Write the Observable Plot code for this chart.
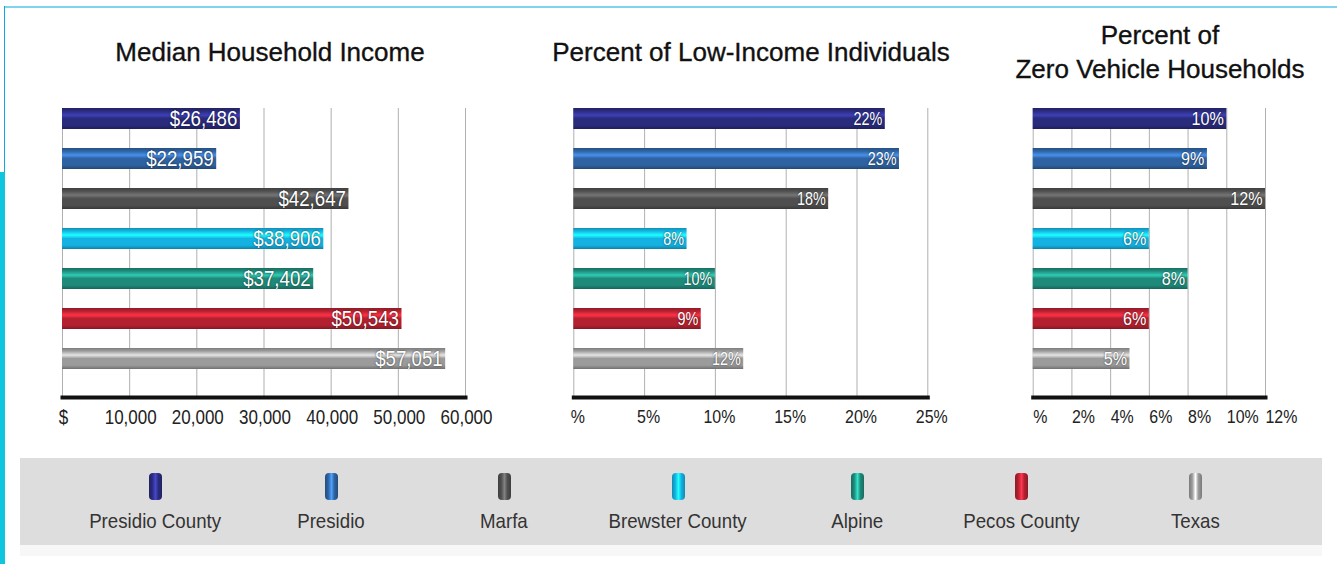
<!DOCTYPE html>
<html>
<head>
<meta charset="utf-8">
<script src="https://cdn.jsdelivr.net/npm/d3@7"></script>
<script src="https://cdn.jsdelivr.net/npm/@observablehq/plot@0.6"></script>
<style>
  html, body { margin: 0; padding: 0; background: #fff; }
  body { width: 1337px; height: 564px; position: relative; overflow: hidden; }
  .title { position: absolute; text-align: center; font-family: "Liberation Sans", Arial, sans-serif;
           font-size: 26px; color: #111; -webkit-text-stroke: 0.35px #111; white-space: nowrap; }
  .chart { position: absolute; top: 90px; }
  .chart g[aria-label="text"] text { text-shadow: 0 0 2px rgba(0,0,0,0.7); }
  #legend { position: absolute; left: 20px; top: 458px; width: 1302px; height: 87px; background: #dedddd; }
  #legend-under { position: absolute; left: 20px; top: 545px; width: 1302px; height: 11px; background: #f7f7f7; }
  .item { position: absolute; top: 0; width: 200px; margin-left: -100px; text-align: center;
          font-family: "Liberation Sans", Arial, sans-serif; }
  .icon { width: 13px; height: 27px; border-radius: 4px; margin: 15px auto 0 auto; }
  .lab { font-size: 21px; color: #333; margin-top: 9px; line-height: 24px; }
  .lab span { display: inline-block; transform: scaleX(0.89); transform-origin: center; white-space: nowrap; }
  #border-top { position: absolute; left: 4px; top: 6px; width: 1333px; height: 2px; background: #7fd3ec; }
  #border-left { position: absolute; left: 4px; top: 6px; width: 1px; height: 166px; background: #10a8e0; }
  #border-block { position: absolute; left: 0; top: 172px; width: 5px; height: 392px; background: #0fc6de; }
</style>
</head>
<body>
<div id="border-top"></div>
<div id="border-left"></div>
<div id="border-block"></div>

<div class="title" style="left:70px; width:400px; top:37px; line-height:30px;">Median Household Income</div>
<div class="title" style="left:551px; width:400px; top:37px; line-height:30px;">Percent of Low-Income Individuals</div>
<div class="title" style="left:1000px; width:320px; top:18px; line-height:34px;">Percent of<br>Zero Vehicle Households</div>

<div id="charts"></div>
<div id="legend"></div>
<div id="legend-under"></div>

<script>
// ---- data ----
const categories = ["Presidio County", "Presidio", "Marfa", "Brewster County", "Alpine", "Pecos County", "Texas"];
const colors = ["#2a2b7c", "#2f62a0", "#4f4f4f", "#14b2e2", "#1f8a7a", "#b32130", "#9b9b9b"];
const medianIncome = [26486, 22959, 42647, 38906, 37402, 50543, 57051];
const lowIncomePct = [22, 23, 18, 8, 10, 9, 12];
const zeroVehiclePct = [10, 9, 12, 6, 8, 6, 5];
const incomeTicks = [0, 10000, 20000, 30000, 40000, 50000, 60000];
const lowIncomeTicks = [0, 5, 10, 15, 20, 25];
const zeroVehicleTicks = [0, 2, 4, 6, 8, 10, 12];

// ---- gradients (glossy bars) ----
const defsSvg = d3.select("body").append("svg")
  .attr("width", 0).attr("height", 0)
  .style("position", "absolute").style("left", 0).style("top", 0);
const defs = defsSvg.append("defs");
colors.forEach((c, i) => {
  const g = defs.append("linearGradient").attr("id", "bar" + i)
    .attr("x1", 0).attr("y1", 0).attr("x2", 0).attr("y2", 1);
  const base = d3.color(c);
  const stops = [
    [0, base.darker(0.6)],
    [0.14, base],
    [0.34, base.brighter(1.1)],
    [0.5, base],
    [0.82, base],
    [1, base.darker(0.9)]
  ];
  stops.forEach(([o, col]) => g.append("stop").attr("offset", o).attr("stop-color", col.formatHex()));
});
const gradientUrls = colors.map((c, i) => `url(#bar${i})`);

const FONT = '"Liberation Sans", Arial, sans-serif';

function squeeze(sel, k) {
  sel.each(function () {
    const t = this.getAttribute("transform") || "";
    this.setAttribute("transform", (t + ` scale(${k},1)`).trim());
  });
}

function makeChart({values, ticks, tickFmt, valueFmt, left, width, marginLeft, marginRight,
                    valueSize, valueSqueeze, axisSize, axisSqueeze, axisAnchor, axisDx}) {
  const data = categories.map((c, i) => ({cat: c, value: values[i]}));
  const plot = Plot.plot({
    width, height: 360,
    marginLeft, marginRight, marginTop: 18, marginBottom: 53,
    style: {fontFamily: FONT, background: "transparent", overflow: "visible"},
    x: {domain: [ticks[0], ticks[ticks.length - 1]], label: null},
    y: {domain: categories, range: [7.9, 289.1], paddingInner: 0.477, paddingOuter: 0.2385, axis: null},
    color: {domain: categories, range: gradientUrls},
    marks: [
      Plot.gridX(ticks, {stroke: "#6f6f6f", strokeOpacity: 0.55, strokeWidth: 1}),
      Plot.barX(data, {x: "value", y: "cat", fill: "cat"}),
      Plot.text(data, {x: "value", y: "cat", text: d => valueFmt(d.value), textAnchor: "end", dx: -3,
                       fill: "white", fontSize: valueSize, fontFamily: FONT}),
      Plot.frame({anchor: "bottom", stroke: "#111", strokeWidth: 4}),
      Plot.axisX(ticks, {tickSize: 0, tickPadding: 12, tickFormat: tickFmt, fontSize: axisSize, label: null,
                         fill: "#222", textAnchor: axisAnchor, dx: axisDx})
    ]
  });
  plot.classList.add("chart");
  plot.style.left = left + "px";
  document.getElementById("charts").appendChild(plot);
  const s = d3.select(plot);
  squeeze(s.selectAll('g[aria-label="text"] text'), valueSqueeze);
  squeeze(s.selectAll('g[aria-label="x-axis tick label"] text'), axisSqueeze);
}

makeChart({
  values: medianIncome, ticks: incomeTicks,
  tickFmt: d => d === 0 ? "$" : d3.format(",")(d),
  valueFmt: d => "$" + d3.format(",")(d),
  left: 0, width: 510, marginLeft: 62, marginRight: 45,
  valueSize: 22, valueSqueeze: 0.85, axisSize: 20, axisSqueeze: 0.85, axisAnchor: "middle", axisDx: 1
});
makeChart({
  values: lowIncomePct, ticks: lowIncomeTicks,
  tickFmt: d => d === 0 ? "%" : d + "%",
  valueFmt: d => d + "%",
  left: 510, width: 470, marginLeft: 63.3, marginRight: 52.7,
  valueSize: 18, valueSqueeze: 0.8, axisSize: 19, axisSqueeze: 0.84, axisAnchor: "middle", axisDx: 4
});
makeChart({
  values: zeroVehiclePct, ticks: zeroVehicleTicks,
  tickFmt: d => d === 0 ? "%" : d + "%",
  valueFmt: d => d + "%",
  left: 980, width: 357, marginLeft: 52.7, marginRight: 72,
  valueSize: 19, valueSqueeze: 0.85, axisSize: 19, axisSqueeze: 0.84, axisAnchor: "start", axisDx: 0
});

// ---- legend ----
const legendX = [155, 331, 504, 678, 857, 1021, 1195];
const legend = document.getElementById("legend");
categories.forEach((c, i) => {
  const base = d3.color(colors[i]);
  const item = document.createElement("div");
  item.className = "item";
  item.style.left = (legendX[i] - 20) + "px";
  const icon = document.createElement("div");
  icon.className = "icon";
  icon.style.background = `linear-gradient(to right, ${base.darker(0.7).formatHex()} 0%, ${base.formatHex()} 25%, ${base.brighter(1.4).formatHex()} 50%, ${base.formatHex()} 72%, ${base.darker(0.7).formatHex()} 100%)`;
  const lab = document.createElement("div");
  lab.className = "lab";
  const span = document.createElement("span");
  span.textContent = c;
  lab.appendChild(span);
  item.appendChild(icon);
  item.appendChild(lab);
  legend.appendChild(item);
});
</script>
</body>
</html>
